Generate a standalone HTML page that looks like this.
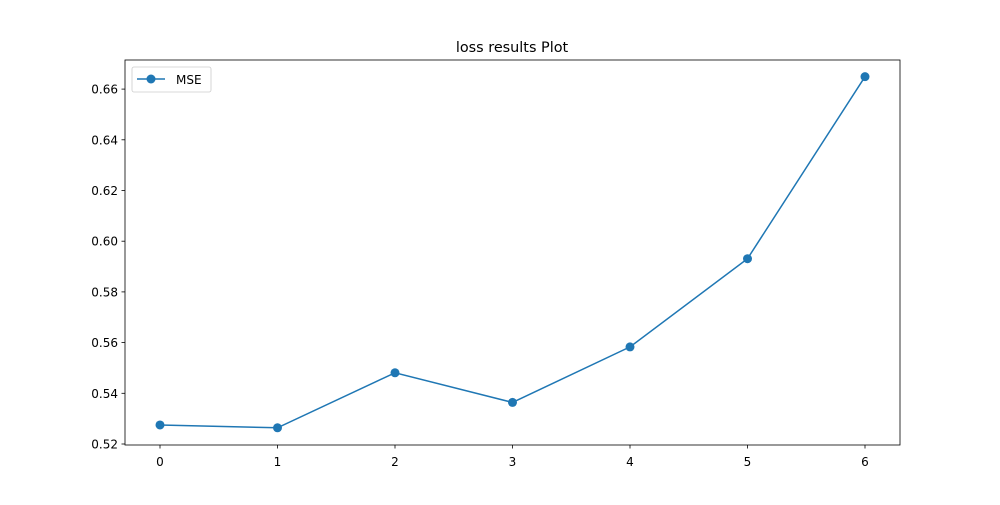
<!DOCTYPE html>
<html><head><meta charset="utf-8"><style>
body{margin:0;background:#fff}
svg text{font-family:"DejaVu Sans","Liberation Sans",sans-serif;fill:#000}
</style></head><body>
<svg id="chart" width="1000" height="500" xmlns="http://www.w3.org/2000/svg">
<rect width="1000" height="500" fill="#fff"/>
<text x="512" y="52" font-size="14.4" text-anchor="middle">loss results Plot</text>
<g id="ticks"></g>
<polyline id="line" fill="none" stroke="#1f77b4" stroke-width="1.5"/>
<g id="pts"></g>
<rect x="125" y="60" width="775" height="385" fill="none" stroke="#000" stroke-width="0.8"/>
<g>
<rect x="132" y="67" width="79" height="25" rx="2" fill="#fff" stroke="#ccc" stroke-width="0.8"/>
<line x1="137" y1="79" x2="165" y2="79" stroke="#1f77b4" stroke-width="1.5"/>
<circle cx="151" cy="79" r="4.5" fill="#1f77b4"/>
<text x="176" y="84" font-size="12">MSE</text>
</g>
</svg>
<script>
const xs=[0,1,2,3,4,5,6];
const mse=[0.5275,0.5264,0.5481,0.5364,0.5583,0.5931,0.6649];
const yTicks=[0.52,0.54,0.56,0.58,0.60,0.62,0.64,0.66];
const yTickLabels=["0.52","0.54","0.56","0.58","0.60","0.62","0.64","0.66"];
const ns="http://www.w3.org/2000/svg";
const X=v=>160+v*117.5;
const Y=v=>444-(v-0.52)/0.02*50.7;
const t=document.getElementById('ticks');
function mk(tag,a){const e=document.createElementNS(ns,tag);for(const k in a)e.setAttribute(k,a[k]);return e;}
xs.forEach(v=>{
 const l=mk('line',{x1:X(v),x2:X(v),y1:445,y2:448.5,stroke:'#000','stroke-width':0.8});
 
 
 t.appendChild(l);
 const tx=mk('text',{x:X(v),y:466,'font-size':12,'text-anchor':'middle'});tx.textContent=v;
 
 
 t.appendChild(tx);
});
yTicks.forEach((v,i)=>{
 const l=mk('line',{x1:121.5,x2:125,y1:Y(v),y2:Y(v),stroke:'#000','stroke-width':0.8});
 
 
 t.appendChild(l);
 const tx=mk('text',{x:118,y:Y(v)+4.5,'font-size':12,'text-anchor':'end'});tx.textContent=yTickLabels[i];
 
 
 t.appendChild(tx);
});
document.getElementById('line').setAttribute('points',xs.map((x,i)=>X(x)+','+Y(mse[i])).join(' '));
const p=document.getElementById('pts');
xs.forEach((x,i)=>{
 const c=mk('circle',{cx:X(x),cy:Y(mse[i]),r:4.5,fill:'#1f77b4'});
 
 
 p.appendChild(c);
});
</script>
</body></html>
